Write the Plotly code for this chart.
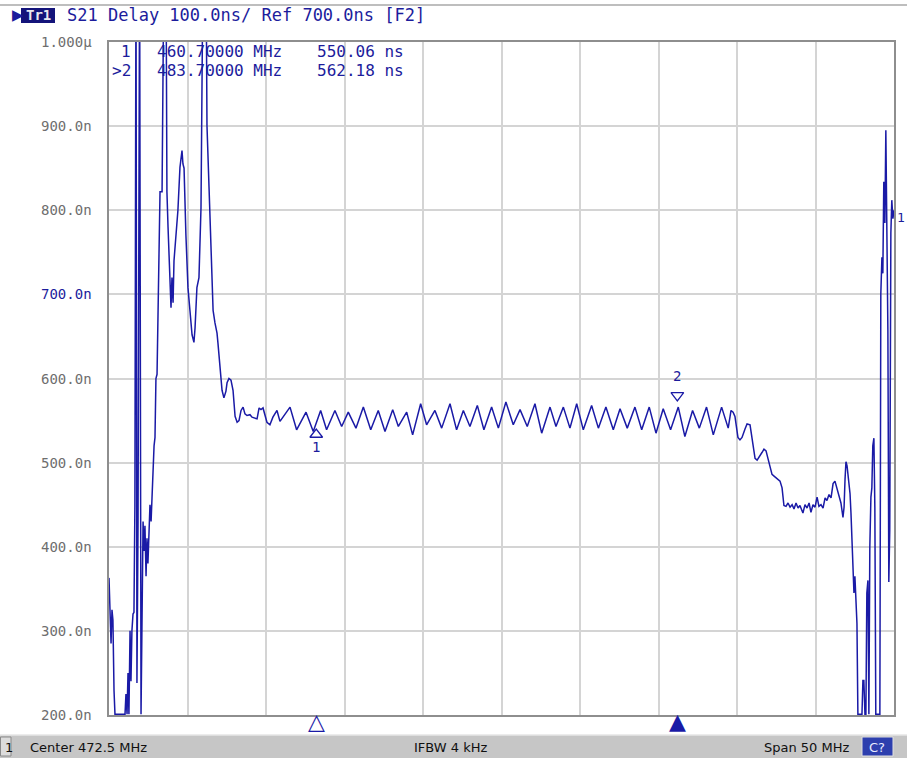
import plotly.graph_objects as go

# ---------------- data ----------------
freq_mhz = [
    447.50, 447.56, 447.63, 447.69, 447.75, 447.82, 447.88, 448.01, 448.14, 448.26,
    448.39, 448.52, 448.58, 448.65, 448.71, 448.77, 448.84, 448.90, 448.96, 449.03,
    449.09, 449.15, 449.22, 449.28, 449.35, 449.45, 449.54, 449.67, 449.73, 449.79,
    449.86, 449.92, 449.98, 450.05, 450.11, 450.18, 450.24, 450.30, 450.37, 450.43,
    450.49, 450.56, 450.62, 450.75, 450.88, 451.00, 451.13, 451.19, 451.26, 451.39,
    451.45, 451.51, 451.58, 451.64, 451.77, 451.89, 452.02, 452.15, 452.21, 452.28,
    452.40, 452.53, 452.66, 452.79, 452.91, 452.98, 453.10, 453.23, 453.36, 453.42,
    453.49, 453.68, 453.74, 453.87, 454.00, 454.06, 454.13, 454.25, 454.38, 454.44,
    454.57, 454.70, 454.82, 454.95, 455.02, 455.14, 455.27, 455.40, 455.53, 455.66,
    455.78, 455.91, 456.04, 456.16, 456.29, 456.48, 456.61, 456.80, 456.93, 457.06,
    457.18, 457.31, 457.44, 457.56, 457.75, 457.94, 458.20,
    458.39, 459.03, 459.45, 460.05, 460.51, 460.98, 461.36, 461.89, 462.32, 462.74,
    463.23, 463.70, 464.17, 464.65, 465.08, 465.57, 465.93, 466.46, 466.84, 467.35,
    467.73, 468.26, 468.69, 469.22, 469.64, 470.07, 470.49, 470.96, 471.38, 471.87,
    472.30, 472.78, 473.25, 473.68, 474.14, 474.63, 475.06, 475.59, 475.97, 476.44,
    476.86, 477.29, 477.71, 478.24, 478.67, 479.15, 479.62, 480.05, 480.51, 481.00,
    481.43, 481.91, 482.34, 482.80, 483.27, 483.76, 484.18, 484.67, 485.10, 485.56,
    485.99, 486.52, 486.94,
    487.12, 487.25, 487.37, 487.56, 487.69, 487.82, 488.01, 488.14, 488.33, 488.46,
    488.65, 488.78, 488.90, 489.09, 489.22, 489.35, 489.47, 489.60, 489.73, 489.86,
    489.98, 490.11, 490.24, 490.37, 490.43, 490.49, 490.62, 490.75, 490.88, 491.01,
    491.13, 491.26, 491.39, 491.51, 491.70, 491.83, 491.96, 492.09, 492.21, 492.34,
    492.47, 492.60, 492.72, 492.85, 492.98, 493.11, 493.23, 493.36, 493.49, 493.62,
    493.74, 493.87, 494.00, 494.12, 494.25, 494.32, 494.38, 494.44, 494.51, 494.57,
    494.63, 494.70, 494.76, 494.82, 494.89, 494.95, 495.01, 495.08, 495.14, 495.20,
    495.46, 495.52, 495.58, 495.65, 495.71, 495.77, 495.84, 495.90, 495.96, 496.03,
    496.09, 496.15, 496.22, 496.28, 496.34, 496.60, 496.66, 496.73, 496.79, 496.85,
    496.92, 496.98, 497.04, 497.11, 497.17, 497.23, 497.30, 497.36, 497.43, 497.50,
]
delay_ns = [
    363, 336, 285, 325, 313, 229, 201, 201, 201, 201,
    201, 201, 225, 201, 250, 201, 300, 240, 300, 320,
    322, 449, 1100, 238, 430, 1100, 201, 430, 395, 425,
    365, 410, 380, 420, 450, 430, 465, 485, 520, 530,
    600, 605, 690, 822, 822, 1100, 1100, 822, 780, 727,
    684, 720, 690, 740, 770, 800, 851, 871, 855, 850,
    770, 708, 680, 652, 643, 660, 708, 720, 803, 898,
    1100, 1100, 901, 828, 760, 729, 681, 666, 654, 642,
    610, 586, 577, 585, 595, 600, 598, 586, 555, 548,
    550, 562, 566, 558, 556, 557, 554, 553, 552, 565,
    563, 565, 556, 548, 545, 554, 562,
    549, 566, 539, 560, 537, 562, 539, 562, 543, 560,
    541, 566, 539, 562, 537, 563, 543, 560, 533, 570,
    545, 562, 541, 570, 539, 562, 543, 568, 539, 566,
    541, 572, 545, 563, 543, 570, 535, 566, 543, 566,
    541, 570, 539, 568, 541, 566, 539, 564, 541, 566,
    539, 566, 535, 564, 539, 566, 531, 562, 541, 566,
    533, 566, 541,
    562, 560, 555, 530, 527, 530, 540, 546, 545, 530,
    505, 503, 506, 512, 516, 514, 505, 495, 486, 484,
    482, 481, 478, 470, 458, 449, 448, 452, 447, 450,
    445, 452, 446, 449, 440, 450, 446, 452, 441, 450,
    447, 459, 448, 450, 446, 458, 455, 462, 458, 475,
    478, 470, 462, 452, 435, 447, 480, 501, 496, 486,
    478, 463, 440, 400, 372, 345, 365, 336, 309, 201,
    201, 241, 241, 201, 201, 345, 360, 201, 400, 459,
    470, 520, 529, 447, 201, 201, 700, 744, 725, 834,
    785, 895, 785, 658, 358, 420, 773, 812, 790, 800,
]

center_mhz = 472.5
span_mhz = 50.0
ref_ns = 700.0
scale_ns = 100.0
y_ticks = [200, 300, 400, 500, 600, 700, 800, 900, 1000]
y_tick_labels = ["200.0n", "300.0n", "400.0n", "500.0n", "600.0n",
                 "700.0n", "800.0n", "900.0n", "1.000\u00b5"]

mk_ids = ["1", "2"]
mk_freq = [460.7, 483.7]
mk_delay = [550.06, 562.18]
mk_active = [False, True]
mk_table_ids = ["1", ">2"]
mk_table_freq = ["460.70000 MHz", "483.70000 MHz"]
mk_table_val = ["550.06 ns", "562.18 ns"]

# ---------------- style ----------------
W, H = 907, 763
L, R, T, B = 109, 13, 42, 48
TRACE = "#1a1aa6"
TXT = "#1c1c9c"
GRID = "#d4d4d4"
FRAME = "#8e8e8e"
MONO = "DejaVu Sans Mono"
SANS = "DejaVu Sans"

x_lo = center_mhz - span_mhz / 2
x_hi = center_mhz + span_mhz / 2
y_lo, y_hi = y_ticks[0], y_ticks[-1]
px_x = (x_hi - x_lo) / (W - L - R)   # MHz per pixel
px_y = (y_hi - y_lo) / (H - T - B)   # ns per pixel


def pxx(x):  # pixel -> paper x
    return (x - L) / (W - L - R)


def pxy(y):  # pixel -> paper y
    return (H - B - y) / (H - T - B)


fig = go.Figure()

fig.add_trace(go.Scatter(
    x=freq_mhz, y=delay_ns, mode="lines",
    line=dict(color=TRACE, width=1.5), hoverinfo="skip", showlegend=False))

# markers on the trace
fig.add_trace(go.Scatter(
    x=[mk_freq[0]], y=[mk_delay[0] - 14 * px_y], mode="markers",
    marker=dict(symbol="triangle-up-open", size=11, color=TRACE, line=dict(width=1.3, color=TRACE)),
    showlegend=False, hoverinfo="skip", cliponaxis=False))
fig.add_trace(go.Scatter(
    x=[mk_freq[1]], y=[mk_delay[1] + 15 * px_y], mode="markers",
    marker=dict(symbol="triangle-down-open", size=11, color=TRACE, line=dict(width=1.3, color=TRACE)),
    showlegend=False, hoverinfo="skip", cliponaxis=False))
fig.add_trace(go.Scatter(
    x=[mk_freq[0], mk_freq[1]],
    y=[mk_delay[0] - 28 * px_y, mk_delay[1] + 33 * px_y],
    mode="text", text=mk_ids, textfont=dict(family=MONO, size=14, color=TXT),
    showlegend=False, hoverinfo="skip", cliponaxis=False))

# reference level arrows
fig.add_trace(go.Scatter(
    x=[x_lo - 7 * px_x], y=[ref_ns], mode="markers",
    marker=dict(symbol="triangle-right", size=13, color=TRACE, line=dict(width=0)),
    showlegend=False, hoverinfo="skip", cliponaxis=False))
fig.add_trace(go.Scatter(
    x=[x_hi + 7 * px_x], y=[ref_ns], mode="markers",
    marker=dict(symbol="triangle-left", size=13, color=TRACE, line=dict(width=0)),
    showlegend=False, hoverinfo="skip", cliponaxis=False))

ann = []
for v, t in zip(y_ticks, y_tick_labels):
    ann.append(dict(x=pxx(94), y=v, xref="paper", yref="y", xanchor="right", yanchor="middle",
                    text=t, showarrow=False,
                    font=dict(family=MONO, size=14, color=TXT if v == ref_ns else "#6e6e6e")))

# marker indicators under the x axis
for f, act in zip(mk_freq, mk_active):
    ann.append(dict(x=f, y=pxy(721), xref="x", yref="paper", xanchor="center", yanchor="middle",
                    text="\u25b2" if act else "\u25b3", showarrow=False,
                    font=dict(family=SANS, size=22, color=TRACE)))

# header
ann.append(dict(x=pxx(10), y=pxy(15), xref="paper", yref="paper", xanchor="left", yanchor="middle",
                text="\u25b6", showarrow=False, font=dict(family=SANS, size=15, color=TXT)))
ann.append(dict(x=pxx(38), y=pxy(15), xref="paper", yref="paper", xanchor="center", yanchor="middle",
                text="<b>Tr1</b>", showarrow=False, font=dict(family=MONO, size=14, color="#e8e8f0")))
ann.append(dict(x=pxx(65), y=pxy(15), xref="paper", yref="paper", xanchor="left", yanchor="middle",
                text="S21 Delay 100.0ns/ Ref 700.0ns [F2]", showarrow=False,
                font=dict(family=MONO, size=17, color=TXT)))

# marker table
for i, yy in enumerate([52, 71]):
    ann.append(dict(x=pxx(133), y=pxy(yy), xref="paper", yref="paper", xanchor="right", yanchor="middle",
                    text=mk_table_ids[i], showarrow=False, font=dict(family=MONO, size=16, color=TXT)))
    ann.append(dict(x=pxx(155), y=pxy(yy), xref="paper", yref="paper", xanchor="left", yanchor="middle",
                    text=mk_table_freq[i], showarrow=False, font=dict(family=MONO, size=16, color=TXT)))
    ann.append(dict(x=pxx(315), y=pxy(yy), xref="paper", yref="paper", xanchor="left", yanchor="middle",
                    text=mk_table_val[i], showarrow=False, font=dict(family=MONO, size=16, color=TXT)))

# right edge "1"
ann.append(dict(x=pxx(895), y=pxy(218), xref="paper", yref="paper", xanchor="left", yanchor="middle",
                text="1", showarrow=False, font=dict(family=MONO, size=13, color=TXT)))

# status bar texts
ann.append(dict(x=pxx(3), y=pxy(747), xref="paper", yref="paper", xanchor="left", yanchor="middle",
                text="1", showarrow=False, font=dict(family=SANS, size=13, color="#101010")))
ann.append(dict(x=pxx(28), y=pxy(747), xref="paper", yref="paper", xanchor="left", yanchor="middle",
                text="Center %.1f MHz" % center_mhz, showarrow=False, font=dict(family=SANS, size=13, color="#101010")))
ann.append(dict(x=pxx(412), y=pxy(747), xref="paper", yref="paper", xanchor="left", yanchor="middle",
                text="IFBW 4 kHz", showarrow=False, font=dict(family=SANS, size=13, color="#101010")))
ann.append(dict(x=pxx(852), y=pxy(747), xref="paper", yref="paper", xanchor="right", yanchor="middle",
                text="Span %d MHz" % span_mhz, showarrow=False, font=dict(family=SANS, size=13, color="#101010")))
ann.append(dict(x=pxx(877), y=pxy(747), xref="paper", yref="paper", xanchor="center", yanchor="middle",
                text="C?", showarrow=False, font=dict(family=SANS, size=13, color="#e8ecff")))

shapes = [
    # top line
    dict(type="line", xref="paper", yref="paper", x0=pxx(0), x1=pxx(907), y0=pxy(5), y1=pxy(5),
         line=dict(color="#a8a8a8", width=1.5)),
    # Tr1 box
    dict(type="rect", xref="paper", yref="paper", x0=pxx(21), x1=pxx(55), y0=pxy(8), y1=pxy(23),
         fillcolor="#14147a", line=dict(width=0), layer="below"),
    # status bar
    dict(type="rect", xref="paper", yref="paper", x0=pxx(0), x1=pxx(907), y0=pxy(735), y1=pxy(758),
         fillcolor="#c6c6c6", line=dict(width=0), layer="below"),
    dict(type="line", xref="paper", yref="paper", x0=pxx(0), x1=pxx(907), y0=pxy(735), y1=pxy(735),
         line=dict(color="#e6e6e6", width=1.5)),
    dict(type="rect", xref="paper", yref="paper", x0=pxx(0.5), x1=pxx(11), y0=pxy(737), y1=pxy(756),
         fillcolor="#dcdcdc", line=dict(color="#8a8a8a", width=1), layer="below"),
    dict(type="rect", xref="paper", yref="paper", x0=pxx(862), x1=pxx(893), y0=pxy(737), y1=pxy(756),
         fillcolor="#2d3fae", line=dict(color="#e0e0e0", width=1), layer="below"),
]

axis_common = dict(showline=True, mirror=True, linecolor=FRAME, linewidth=1.5,
                   showgrid=True, gridcolor=GRID, gridwidth=2, zeroline=False,
                   showticklabels=False, ticks="")

fig.update_layout(
    width=W, height=H,
    margin=dict(l=L, r=R, t=T, b=B, pad=0),
    paper_bgcolor="white", plot_bgcolor="white",
    xaxis=dict(range=[x_lo, x_hi], dtick=5, tick0=x_lo, **axis_common),
    yaxis=dict(range=[y_lo, y_hi], tickvals=y_ticks, **axis_common),
    annotations=ann, shapes=shapes, showlegend=False,
)

fig.write_html("out.html", config={"displayModeBar": False},
               post_script="document.body.style.margin='0';document.body.style.overflow='hidden';")
